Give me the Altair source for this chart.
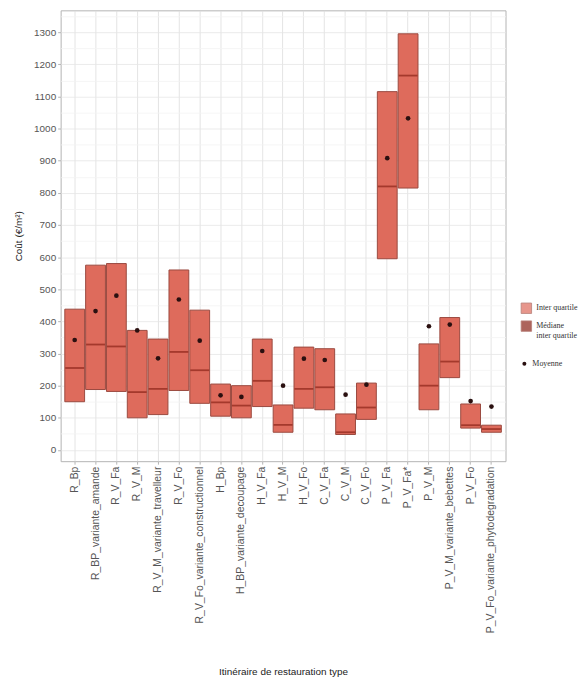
import altair as alt
import pandas as pd

categories = ["R_Bp", "R_BP_variante_amande", "R_V_Fa", "R_V_M", "R_V_M_variante_travelleur",
              "R_V_Fo", "R_V_Fo_variante_constructionnel", "H_Bp", "H_BP_variante_decoupage",
              "H_V_Fa", "H_V_M", "H_V_Fo", "C_V_Fa", "C_V_M", "C_V_Fo", "P_V_Fa", "P_V_Fa*",
              "P_V_M", "P_V_M_variante_bebettes", "P_V_Fo", "P_V_Fo_variante_phytodegradation"]
q1 = [150, 188, 182, 100, 110, 185, 145, 105, 100, 135, 55, 130, 125, 48, 95, 595, 815, 125, 225, 68, 55]
q3 = [438, 575, 580, 372, 345, 560, 435, 205, 200, 345, 140, 320, 315, 112, 208, 1115, 1295, 330, 412, 143, 77]
median = [255, 328, 322, 180, 190, 305, 248, 148, 138, 215, 78, 190, 195, 55, 132, 820, 1165, 200, 275, 77, 65]
mean = [342, 432, 480, 372, 285, 468, 340, 170, 165, 308, 200, 284, 280, 172, 203, 908, 1032, 385, 390, 152, 135]

major_ticks = list(range(0, 1400, 100))
minor_ticks = list(range(50, 1400, 100))

df = pd.DataFrame({"cat": categories, "q1": q1, "q3": q3, "median": median, "mean": mean})
df["box"] = "Inter quartile"
df["med"] = "Médiane inter quartile"
df["moy"] = "Moyenne"

FILL = "#DE6B5C"
EDGE = "#9A4A40"
MED = "#8B2318"

xenc = alt.X("cat:N", sort=categories, title="Itinéraire de restauration type",
             scale=alt.Scale(paddingInner=0.05, paddingOuter=0.2),
             axis=alt.Axis(labelAngle=270, labelAlign="right", labelBaseline="middle",
                           labelFontSize=10.5, titlePadding=34,
                           grid=True, bandPosition=0.5, tickBand="center"))
yscale = alt.Scale(domain=[-35, 1368], nice=False, zero=False)

fill_scale = alt.Scale(domain=["Inter quartile", "Médiane inter quartile"], range=[FILL, MED])

boxes = alt.Chart(df).mark_bar(stroke=EDGE, strokeWidth=1).encode(
    x=xenc,
    y=alt.Y("q1:Q", scale=yscale, title="Coût (€/m²)",
            axis=alt.Axis(values=major_ticks, format="d", grid=True, gridColor="#e6e6e6",
                          labelFontSize=10, titlePadding=10)),
    y2="q3:Q",
    fill=alt.Fill("box:N", scale=fill_scale,
                  legend=alt.Legend(title=None, orient="none", legendX=463, legendY=294,
                                    symbolType="square", symbolSize=110,
                                    symbolStrokeColor=EDGE, symbolStrokeWidth=0.8,
                                    labelExpr="datum.label == 'Médiane inter quartile' ? ['Médiane', 'inter quartile'] : datum.label")),
)

medians = alt.Chart(df).mark_tick(thickness=1.8, size=19).encode(
    x=xenc,
    y=alt.Y("median:Q", scale=yscale, title=None,
            axis=alt.Axis(values=minor_ticks, grid=True, gridColor="#f3f3f3", labels=False,
                          ticks=False, domain=False, orient="left")),
    fill=alt.Fill("med:N", scale=fill_scale),
)

means = alt.Chart(df).mark_point(filled=True, size=22, opacity=1).encode(
    x=xenc,
    y=alt.Y("mean:Q", scale=yscale, axis=None),
    shape=alt.Shape("moy:N", scale=alt.Scale(domain=["Moyenne"], range=["circle"]),
                    legend=alt.Legend(title=None, orient="none", legendX=463, legendY=352,
                                      symbolType="square", symbolSize=16,
                                      symbolFillColor="#1a1a1a", symbolStrokeColor="#1a1a1a")),
    color=alt.value("#2a1010"),
)

chart = alt.layer(boxes, medians, means).resolve_axis(y="independent").properties(
    width=448, height=454, padding={"left": 5, "top": 0, "right": 0, "bottom": 0}
).configure_view(stroke="#b3b3b3", strokeWidth=1).configure_axis(
    domain=False, tickColor="#b3b3b3", tickSize=3, labelColor="#555555", labelFontSize=9,
    labelFont="Liberation Sans", titleFont="Liberation Sans", titleFontSize=10,
    titleFontWeight="normal", titleColor="#222222", gridWidth=0.8,
).configure_legend(labelFont="Liberation Serif", labelFontSize=8, labelColor="#333333",
                   labelLimit=48, rowPadding=4)

chart.save("out.html", embed_options={"renderer": "svg", "actions": False})
